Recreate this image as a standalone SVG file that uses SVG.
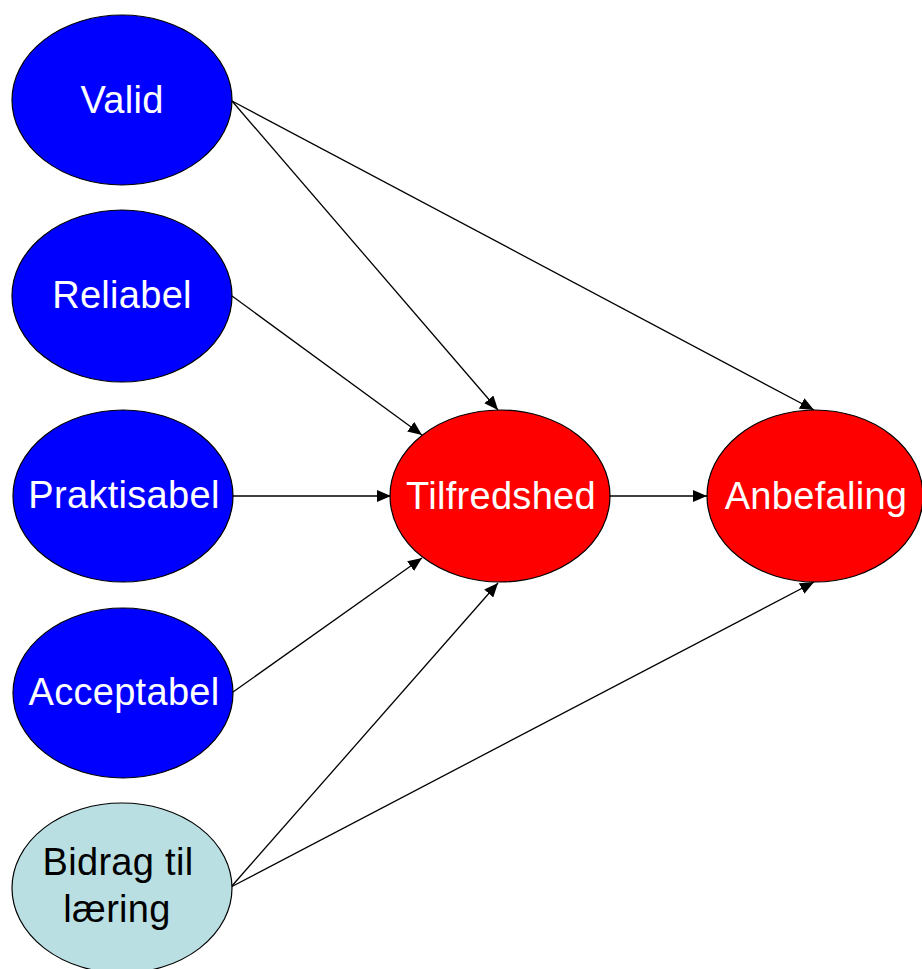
<svg xmlns="http://www.w3.org/2000/svg" width="922" height="969" viewBox="0 0 922 969">
<style>
  .node ellipse { stroke: #000; stroke-width: 1.2; }
  .blue ellipse { fill: #0000FF; }
  .red ellipse { fill: #FF0000; }
  .light ellipse { fill: #B9DFE3; }
  text { font-family: "Liberation Sans", Arial, sans-serif; font-size: 38px; text-anchor: middle; letter-spacing: 0.3px; }
  .blue text, .red text { fill: #fff; }
  .light text { fill: #000; }
  .edge { stroke: #000; stroke-width: 1.3; fill: none; marker-end: url(#arrow); }
</style>
<defs>
  <marker id="arrow" markerUnits="userSpaceOnUse" markerWidth="14" markerHeight="12" viewBox="0 0 14 12" refX="14" refY="6" orient="auto">
    <path d="M0,0 L14,6 L0,12 Z" fill="#000"/>
  </marker>
</defs>
<rect width="922" height="969" fill="#fff"/>
<g id="connectors">
  <line class="edge" x1="232" y1="101" x2="498" y2="410"/>
  <line class="edge" x1="232" y1="101" x2="814" y2="410"/>
  <line class="edge" x1="232" y1="296" x2="422" y2="435"/>
  <line class="edge" x1="233" y1="496" x2="391" y2="496"/>
  <line class="edge" x1="610" y1="496" x2="707" y2="496"/>
  <line class="edge" x1="233" y1="692" x2="422" y2="558"/>
  <line class="edge" x1="231" y1="887" x2="498" y2="583"/>
  <line class="edge" x1="231" y1="887" x2="814" y2="582"/>
</g>
<g id="valid" class="node blue">
  <ellipse cx="122" cy="100" rx="110" ry="85"/>
  <text x="122" y="113">Valid</text>
</g>
<g id="reliabel" class="node blue">
  <ellipse cx="122" cy="296" rx="110" ry="86"/>
  <text x="122" y="308">Reliabel</text>
</g>
<g id="praktisabel" class="node blue">
  <ellipse cx="123" cy="496" rx="110" ry="86"/>
  <text x="124" y="508">Praktisabel</text>
</g>
<g id="acceptabel" class="node blue">
  <ellipse cx="123" cy="693" rx="110" ry="85"/>
  <text x="124" y="705">Acceptabel</text>
</g>
<g id="bidrag" class="node light">
  <ellipse cx="122" cy="888" rx="110" ry="85"/>
  <text x="118" y="875">Bidrag til</text>
  <text x="117" y="922">læring</text>
</g>
<g id="tilfredshed" class="node red">
  <ellipse cx="500" cy="496" rx="110" ry="86"/>
  <text x="501" y="509">Tilfredshed</text>
</g>
<g id="anbefaling" class="node red">
  <ellipse cx="815" cy="496" rx="108" ry="86"/>
  <text x="816" y="509">Anbefaling</text>
</g>
</svg>
